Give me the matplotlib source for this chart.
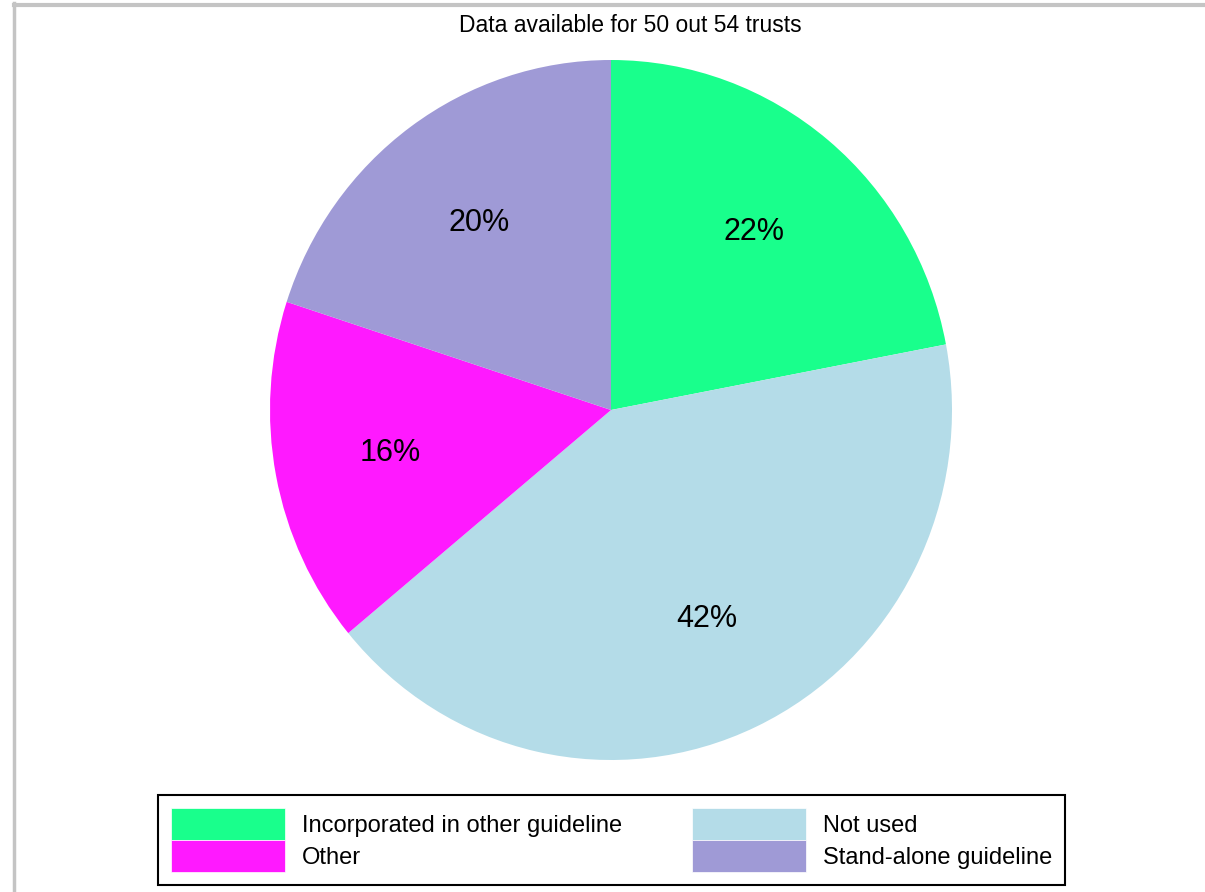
import matplotlib
matplotlib.use("Agg")
import matplotlib.pyplot as plt
from matplotlib.lines import Line2D

# data
labels = ["Incorporated in other guideline", "Not used", "Other", "Stand-alone guideline"]
shares = [22, 42, 16, 20]
colours = ["#19ff8c", "#b4dce8", "#ff19ff", "#9f9ad6"]
title = "Data available for 50 out 54 trusts"

plt.rcParams["font.family"] = ["Liberation Sans", "DejaVu Sans"]

W, H = 1205, 892
fig = plt.figure(figsize=(W / 100, H / 100), dpi=100)

# grey frame on the top and left
fig.add_artist(Line2D([13.5 / W, 13.5 / W], [0, 1 - 3 / H], color="#c4c4c4", lw=2.5))
fig.add_artist(Line2D([13.5 / W, 1], [1 - 5 / H, 1 - 5 / H], color="#c4c4c4", lw=3))

# pie is a little taller than wide in the reference
cx, cy, rx, ry = 611, 410, 341, 350
ax = fig.add_axes([(cx - rx) / W, (H - cy - ry) / H, 2 * rx / W, 2 * ry / H])
wedges, _, pcts = ax.pie(shares, colors=colours, startangle=90, counterclock=False,
                         autopct="%d%%", pctdistance=0.66,
                         textprops={"fontsize": 22})
ax.set_aspect("auto")
ax.set_xlim(-1, 1); ax.set_ylim(-1, 1)
ax.axis("off")

fig.text(630 / W, 1 - 26 / H, title, ha="center", va="center", fontsize=16.5)

order = [0, 2, 1, 3]
leg = fig.legend([wedges[i] for i in order], [labels[i] for i in order], ncol=2,
                 loc="lower left", bbox_to_anchor=(158 / W, (H - 885) / H, 907 / W, 92 / H),
                 mode="expand", borderaxespad=0, fontsize=17, fancybox=False,
                 edgecolor="black", framealpha=1, handlelength=4.83, handleheight=1.71,
                 labelspacing=0, handletextpad=0.72, borderpad=0.55, columnspacing=2.0)
leg.get_frame().set_linewidth(1.5)
for p in leg.get_patches():
    p.set_edgecolor("white"); p.set_linewidth(0.5)

fig.savefig("out.png", dpi=100)
